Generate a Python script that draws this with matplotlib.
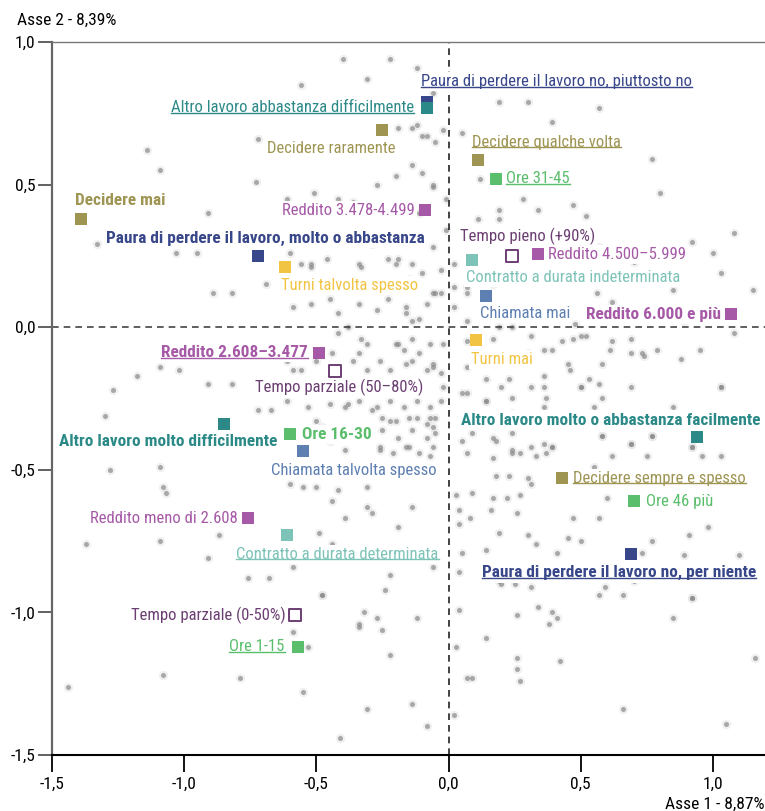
import matplotlib
matplotlib.use("Agg")
import matplotlib.pyplot as plt
from matplotlib.lines import Line2D

plt.rcParams["font.family"] = ["Roboto Condensed", "DejaVu Sans"]

# categorie (modalita) e coordinate sui due assi
labels = [
    "Paura di perdere il lavoro no, piuttosto no",
    "Altro lavoro abbastanza difficilmente",
    "Decidere raramente",
    "Decidere qualche volta",
    "Ore 31-45",
    "Decidere mai",
    "Reddito 3.478-4.499",
    "Paura di perdere il lavoro, molto o abbastanza",
    "Turni talvolta spesso",
    "Tempo pieno (+90%)",
    "Reddito 4.500\u20135.999",
    "Contratto a durata indeterminata",
    "Chiamata mai",
    "Reddito 6.000 e pi\u00f9",
    "Turni mai",
    "Reddito 2.608\u20133.477",
    "Tempo parziale (50\u201380%)",
    "Altro lavoro molto difficilmente",
    "Ore 16-30",
    "Chiamata talvolta spesso",
    "Altro lavoro molto o abbastanza facilmente",
    "Decidere sempre e spesso",
    "Ore 46 pi\u00f9",
    "Reddito meno di 2.608",
    "Contratto a durata determinata",
    "Paura di perdere il lavoro no, per niente",
    "Tempo parziale (0-50%)",
    "Ore 1-15",
]
asse1 = [-0.08, -0.08, -0.25, 0.11, 0.18, -1.39, -0.09, -0.72, -0.62, 0.24,
         0.34, 0.09, 0.14, 1.07, 0.105, -0.49, -0.43, -0.85, -0.60, -0.55,
         0.94, 0.43, 0.70, -0.76, -0.61, 0.69, -0.58, -0.57]
asse2 = [0.79, 0.77, 0.69, 0.585, 0.52, 0.38, 0.41, 0.25, 0.21, 0.25,
         0.255, 0.235, 0.11, 0.045, -0.045, -0.09, -0.155, -0.34, -0.375, -0.435,
         -0.385, -0.53, -0.61, -0.67, -0.73, -0.795, -1.01, -1.12]
variabile = ["paura", "altro", "decidere", "decidere", "ore", "decidere", "reddito",
             "paura", "turni", "tempo", "reddito", "contratto", "chiamata", "reddito",
             "turni", "reddito", "tempo", "altro", "ore", "chiamata", "altro",
             "decidere", "ore", "reddito", "contratto", "paura", "tempo", "ore"]

# individui (nuvola di punti grigi)
dots_x = [
    -0.40, -0.31, -0.22, -0.56, -0.12, -0.72, -1.14, -1.09, -0.19, -0.12, -0.08, -0.02,
    -0.20, -0.10, -0.06, -0.27, -0.73, -0.61, -0.51, -0.42, -0.36, -0.91, -0.01, -1.33,
    -1.03, -0.95, -0.60, -0.52, -0.46, -0.23, -0.19, -0.14, -0.33, -0.29, -0.89, -0.82,
    -0.69, -0.10, -0.05, -0.01,
    0.19, 0.30, 0.39, 0.57, 0.77, 0.12, 0.28, 0.19, 0.34, 0.47, 0.11, 0.19, 0.52, 1.08,
    0.02, 0.57, 0.70, 1.00, 1.03, 0.56, 0.62, 0.85, 1.15, 0.02, 0.07, -0.06, -0.14, -0.10,
    -0.05, 0.05, -0.14, -0.06, -0.11, -0.16, -0.06, -0.15, -0.06, -0.16, -0.11, 0.02,
    0.19, 0.52, 0.62, 0.73, 0.95, 1.08, 0.89, 0.39, 0.30, -0.02, 0.80, 0.92, 0.48,
    -1.18, -1.27, -1.09, -1.02, -0.91, -0.82, -1.30, -0.72, -0.67, -0.59, -0.44, -0.31,
    -0.19, -0.14, -0.06, -0.20, -0.02, -0.38, -0.29, -0.22, -0.12, -0.06, -0.26, -0.15,
    -0.07, -0.50, -0.48, -1.28, -1.09, -1.08, -1.07, -1.37, -1.09, -0.87, -0.91, -0.60,
    -0.55, -0.50, -0.42, -0.31, -0.44, -0.31, -0.14, -0.39, -0.29, -0.49, -0.19, -0.44,
    -0.39, -0.22, -0.06, -0.48, -0.59, -0.34, -0.27, -0.68, -0.76, -0.07,
    0.20, 0.31, 0.50, 0.69, 1.03, 0.36, 0.55, 0.24, 0.05, 0.14, 0.17, 0.05, 0.36, 0.58,
    0.69, 0.77, 0.24, 0.27, 0.33, 0.37, 0.39, 0.96, 1.03, 0.92, 0.55, 0.62, 0.75, 0.18,
    0.23, 0.30, 0.31, 0.09, 0.17, 0.22, 0.27, 0.03, 0.04, 0.04, 0.16, 0.26, 0.08, 0.60,
    0.47, 0.57, 0.98, 0.19, 0.30, 0.45, 0.50, 0.33, 0.77, 0.91, 0.05, 0.14, 0.41, 0.73,
    0.89, 1.10, 0.04, 0.19, 0.31, 0.57, 0.92, 0.70,
    -0.52, -0.42, -0.34, -0.27, -0.23, -0.16, -0.14, -0.08, -0.03, -0.56, -0.52, -0.34,
    -0.20, -0.03, -0.59, -0.45, -0.38, -0.33, -0.20, -0.14, -0.07, -0.42, -0.34, -0.26,
    -0.17, -0.11, -0.06, -0.03, -0.36, -0.31, -0.22, -0.08, -0.16, -0.61, -0.56, -0.50,
    -0.61, -0.53, -0.45, -0.39, -0.34, -0.27, -0.22, -0.17, -0.12, -0.07, -0.03, -0.25,
    -0.20, -0.15, -0.08, -0.05, -0.25, -0.19, -0.14, -0.08, -0.05, -0.26, -0.21, -0.16,
    -0.11, -0.06, -0.45, -0.39, -0.35, 0.07, 0.17, 0.24, 0.07, 0.24, 0.17, 0.07, 0.24,
    0.07, 0.14, 0.23, 0.07, 0.14, 0.24, 0.09, 0.18, 0.24, 0.07, 0.17, 0.24,
    0.31, 0.36, 0.47, 0.50, 0.45, 0.46, 0.36, 0.36, 0.53, 0.57, 0.50, 0.58, 0.61, 0.69,
    0.69, 0.74, 0.79, 0.88, 1.03, 0.37, 0.58, 0.85, 0.58, 0.69, 0.77, 0.39, 0.31, 0.92,
    0.43,
    -0.48, -0.24, 0.20, 0.25, 0.59, 0.66, 0.92, 0.04, 0.26, 0.34, 0.39, 0.41, 0.38, -0.32,
    -0.34, -0.25, -0.12, -0.59, -0.53, 0.14, 0.03, -0.22, 0.26, 0.42, 0.26, 0.07, 0.09,
    0.27, -0.79, -1.08, -1.44, -0.55, -0.14, -0.31, -0.08, 0.02, -0.41, 0.66, 1.05, 0.85,
    1.16,
]
dots_y = [
    0.94, 0.87, 0.94, 0.85, 0.91, 0.66, 0.62, 0.55, 0.70, 0.71, 0.67, 0.69,
    0.53, 0.54, 0.50, 0.50, 0.51, 0.45, 0.47, 0.45, 0.44, 0.40, 0.45, 0.29,
    0.26, 0.26, 0.26, 0.22, 0.24, 0.24, 0.24, 0.22, 0.21, 0.29, 0.12, 0.12,
    0.15, 0.19, 0.12, 0.34,
    0.79, 0.79, 0.72, 0.77, 0.59, 0.52, 0.45, 0.41, 0.41, 0.43, 0.38, 0.38, 0.39, 0.33,
    0.22, 0.28, 0.23, 0.26, 0.19, 0.12, 0.09, 0.13, 0.13, 0.14, 0.12, 0.82, 0.70, 0.67,
    0.65, 0.68, 0.57, 0.49, 0.40, 0.31, 0.28, 0.17, 0.12, 0.05, 0.03, 0.07,
    -0.00, -0.03, -0.05, -0.09, -0.08, -0.02, 0.02, -0.08, -0.09, -0.06, 0.47, 0.30, 0.01,
    -0.17, -0.22, -0.14, -0.15, -0.20, -0.20, -0.31, -0.29, -0.29, -0.15, -0.09, -0.06,
    -0.06, -0.12, -0.14, -0.21, -0.21, -0.27, -0.29, -0.33, -0.32, -0.35, -0.43, -0.42,
    -0.45, -0.33, -0.35, -0.50, -0.49, -0.56, -0.58, -0.76, -0.75, -0.73, -0.81, -0.55,
    -0.56, -0.56, -0.57, -0.56, -0.61, -0.63, -0.63, -0.67, -0.65, -0.72, -0.70, -0.76,
    -0.80, -0.87, -0.84, -0.94, -0.84, -1.05, -1.02, -0.88, -0.88, -0.32,
    -0.21, -0.21, -0.21, -0.21, -0.21, -0.28, -0.28, -0.30, -0.23, -0.26, -0.39, -0.40,
    -0.41, -0.38, -0.41, -0.38, -0.43, -0.44, -0.45, -0.44, -0.42, -0.45, -0.45, -0.42,
    -0.49, -0.45, -0.45, -0.52, -0.52, -0.53, -0.55, -0.58, -0.60, -0.60, -0.59, -0.59,
    -0.64, -0.69, -0.64, -0.65, -0.67, -0.60, -0.67, -0.67, -0.70, -0.72, -0.73, -0.74,
    -0.75, -0.76, -0.75, -0.73, -0.79, -0.78, -0.79, -0.79, -0.80, -0.80, -0.86, -0.89,
    -0.91, -0.94, -0.95, -0.89,
    0.08, 0.05, 0.08, 0.06, 0.10, 0.07, 0.02, 0.08, 0.12, 0.22, 0.21, 0.22,
    0.22, 0.20, 0.07, 0.10, -0.00, -0.04, -0.06, -0.04, -0.06, -0.02, -0.09, -0.12,
    -0.08, -0.09, -0.13, -0.16, -0.12, -0.15, -0.15, -0.15, -0.13, -0.12, -0.15, -0.12,
    -0.26, -0.28, -0.27, -0.28, -0.26, -0.28, -0.26, -0.28, -0.26, -0.28, -0.26, -0.32,
    -0.33, -0.32, -0.34, -0.32, -0.36, -0.39, -0.36, -0.39, -0.37, -0.42, -0.44, -0.42,
    -0.44, -0.42, -0.40, -0.43, -0.37, 0.14, 0.15, 0.17, 0.02, -0.00, -0.04, -0.05, -0.11,
    -0.14, -0.18, -0.18, -0.23, -0.26, -0.25, -0.37, -0.40, -0.37, -0.44, -0.46, -0.44,
    -0.03, -0.08, -0.04, -0.03, -0.13, -0.15, -0.17, -0.21, -0.18, -0.20, -0.21, -0.13,
    -0.08, -0.04, -0.09, -0.10, -0.08, -0.11, -0.21, -0.25, -0.25, -0.28, -0.38, -0.41,
    -0.38, -0.42, -0.42, -0.42, -0.05,
    -0.94, -0.92, -0.90, -0.90, -0.91, -0.94, -0.95, -0.99, -1.01, -0.98, -1.00, -1.02,
    -1.04, -1.00, -1.04, -1.06, -1.02, -1.07, -1.12, -1.09, -1.12, -1.15, -1.16, -1.17,
    -1.20, -1.23, -1.23, -1.24, -1.23, -1.22, -1.26, -1.28, -1.32, -1.34, -1.40, -1.36,
    -1.44, -1.34, -1.39, -1.02, -1.16,
]

xticks = [-1.5, -1.0, -0.5, 0.0, 0.5, 1.0]
xtick_labels = ["-1,5", "-1,0", "-0,5", "0,0", "0,5", "1,0"]
yticks = [-1.5, -1.0, -0.5, 0.0, 0.5, 1.0]
ytick_labels = ["-1,5", "-1,0", "-0,5", "0,0", "0,5", "1,0"]

colori = {
    "paura": "#38468a", "altro": "#2b8a87", "decidere": "#9f9553", "ore": "#5abe6c",
    "reddito": "#a659a6", "turni": "#f2c443", "contratto": "#7dc3b8",
    "chiamata": "#5d7fb2", "tempo": "#6c3f73",
}

# posizione etichetta: (dx px, dy px, allineamento, grassetto, sottolineato)
etichette = [
    (-6, 20, "left", False, True),
    (-13, 0, "right", False, True),
    (13, -18, "right", False, False),
    (-6, 18, "left", False, True),
    (10, 0, "left", False, True),
    (-6, 18, "left", True, False),
    (-10, 0, "right", False, False),
    (167, 17, "right", True, False),
    (-4, -18, "left", False, False),
    (-52, 20, "left", False, False),
    (10, 0, "left", False, False),
    (-6, -17, "left", False, False),
    (-6, -18, "left", False, False),
    (-10, 0, "right", True, False),
    (-5, -19, "left", False, False),
    (-11, 0, "right", True, True),
    (89, -16, "right", False, False),
    (54, -17, "right", True, False),
    (12, 0, "left", True, False),
    (-32, -19, "left", False, False),
    (63, 17, "right", True, False),
    (11, 0, "left", False, True),
    (12, 0, "left", False, False),
    (-10, 0, "right", False, False),
    (-51, -19, "left", False, True),
    (-149, -19, "left", True, True),
    (-9, 0, "right", False, False),
    (-13, 0, "right", False, True),
]

fig = plt.figure(figsize=(7.65, 8.11), dpi=100)
ax = fig.add_axes([52 / 765, 56 / 811, 713 / 765, 713 / 811])
ax.set_xlim(-1.5, 1.197)
ax.set_ylim(-1.5, 1.0)

ax.scatter(dots_x, dots_y, s=45, color="#dadada", alpha=0.4, linewidths=0, zorder=1)
ax.scatter(dots_x, dots_y, s=13, color="#8a8a8a", alpha=0.7, linewidths=0, zorder=1)

ax.axvline(0, color="#222222", lw=1.2, ls=(0, (4, 3)), zorder=2)
ax.axhline(0, color="#444444", lw=1.2, ls=(0, (4, 3)), zorder=2)

da_sottolineare = []
for i, lab in enumerate(labels):
    c = colori[variabile[i]]
    if variabile[i] == "tempo":
        ax.scatter(asse1[i], asse2[i], marker="s", s=70, facecolor="white",
                   edgecolor=c, linewidths=1.4, zorder=5)
    else:
        ax.scatter(asse1[i], asse2[i], marker="s", s=85, color=c, linewidths=0, zorder=5)
    dx, dy, ha, bold, sott = etichette[i]
    t = ax.annotate(lab, (asse1[i], asse2[i]), xytext=(dx, dy), textcoords="offset pixels",
                    ha=ha, va="center", fontsize=12.4 if bold else 12, color=c,
                    fontweight="bold" if bold else "normal",
                    bbox=dict(boxstyle="square,pad=0.12", fc="white", ec="none"),
                    zorder=4)
    if sott:
        da_sottolineare.append((t, c))

ax.set_xticks(xticks)
ax.set_xticklabels(xtick_labels)
ax.set_yticks(yticks)
ax.set_yticklabels(ytick_labels)
ax.tick_params(axis="x", length=12, width=1.3, color="black", labelsize=12.5, pad=4)
ax.tick_params(axis="y", length=10, width=1.3, color="#555555", labelsize=12.5, pad=2)

ax.spines["right"].set_visible(False)
ax.spines["top"].set_color("#777777")
ax.spines["top"].set_linewidth(1.0)
ax.spines["left"].set_color("#666666")
ax.spines["left"].set_linewidth(1.6)
ax.spines["bottom"].set_color("black")
ax.spines["bottom"].set_linewidth(1.5)

fig.text(17 / 765, 1 - 20 / 811, "Asse 2 - 8,39%", fontsize=12.5, va="center", ha="left")
fig.text(665 / 765, 1 - 797 / 811, "Asse 1 - 8,87%", fontsize=12.5, va="top", ha="left")

# sottolineature
fig.canvas.draw()
r = fig.canvas.get_renderer()
for t, c in da_sottolineare:
    bb = t.get_window_extent(r)
    y = (bb.y0 + 2.5) / fig.bbox.height
    fig.add_artist(Line2D([bb.x0 / fig.bbox.width, bb.x1 / fig.bbox.width], [y, y],
                          transform=fig.transFigure, color=c, lw=1.0, zorder=6))

fig.savefig("out.png", dpi=100)
